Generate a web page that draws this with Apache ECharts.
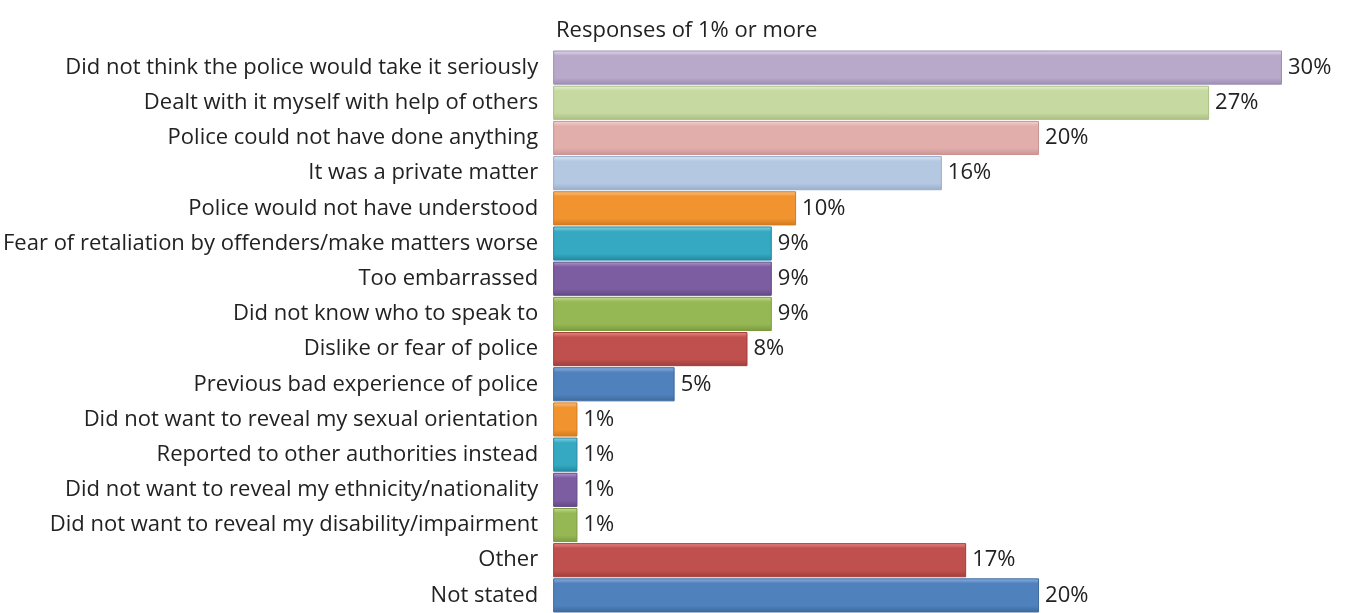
<!DOCTYPE html>
<html>
<head>
<meta charset="utf-8">
<script src="https://cdn.jsdelivr.net/npm/echarts@6/dist/echarts.min.js"></script>
<style>
  html, body { margin: 0; padding: 0; background: #fff; }
  #chart { width: 1352px; height: 613px; }
</style>
</head>
<body>
<div id="chart"></div>
<script>
// categories top to bottom
var categories = [
  "Did not think the police would take it seriously",
  "Dealt with it myself with help of others",
  "Police could not have done anything",
  "It was a private matter",
  "Police would not have understood",
  "Fear of retaliation by offenders/make matters worse",
  "Too embarrassed",
  "Did not know who to speak to",
  "Dislike or fear of police",
  "Previous bad experience of police",
  "Did not want to reveal my sexual orientation",
  "Reported to other authorities instead",
  "Did not want to reveal my ethnicity/nationality",
  "Did not want to reveal my disability/impairment",
  "Other",
  "Not stated"
];
var values = [30, 27, 20, 16, 10, 9, 9, 9, 8, 5, 1, 1, 1, 1, 17, 20];
// bar colours (light top, base, dark bottom)
var barColors = [
  ["#e6dcf0", "#b8a9cb", "#9d8db3"],
  ["#e8f2d2", "#c6d9a0", "#a9bf82"],
  ["#f6d6d4", "#e2aeab", "#c99390"],
  ["#dce8f6", "#b5c8e2", "#97adca"],
  ["#fbc489", "#f1932f", "#d37a1e"],
  ["#8fd6e6", "#36a9c2", "#2388a0"],
  ["#b49ad0", "#7c5da1", "#634887"],
  ["#c7df96", "#96b854", "#7b9a3e"],
  ["#e98c88", "#c0504d", "#a03e3b"],
  ["#8fb4e3", "#4f81bd", "#3d699d"],
  ["#fbc489", "#f1932f", "#d37a1e"],
  ["#8fd6e6", "#36a9c2", "#2388a0"],
  ["#b49ad0", "#7c5da1", "#634887"],
  ["#c7df96", "#96b854", "#7b9a3e"],
  ["#e98c88", "#c0504d", "#a03e3b"],
  ["#8fb4e3", "#4f81bd", "#3d699d"]
];

var chart = echarts.init(document.getElementById('chart'));
var font = '"Open Sans", "Noto Sans", sans-serif';

var data = values.map(function (v, i) {
  var c = barColors[i];
  return {
    value: v,
    itemStyle: {
      color: {
        type: 'linear', x: 0, y: 0, x2: 0, y2: 1,
        colorStops: [
          { offset: 0, color: c[0] },
          { offset: 0.15, color: c[1] },
          { offset: 0.8, color: c[1] },
          { offset: 1, color: c[2] }
        ]
      },
      borderColor: c[2],
      borderWidth: 1
    }
  };
});

var option = {
  animation: false,
  title: {
    text: "Responses of 1% or more",
    left: 551,
    top: 15,
    textStyle: { fontFamily: font, fontSize: 22, fontWeight: 'normal', color: '#222' }
  },
  grid: { left: 552, top: 50, width: 730, height: 568 },
  xAxis: {
    type: 'value',
    min: 0,
    max: 30,
    show: false
  },
  yAxis: {
    type: 'category',
    inverse: true,
    data: categories,
    axisLine: { show: false },
    axisTick: { show: false },
    axisLabel: {
      margin: 15,
      fontFamily: font,
      fontSize: 22,
      color: '#222'
    }
  },
  series: [{
    type: 'bar',
    data: data,
    barCategoryGap: '3%',
    label: {
      show: true,
      position: 'right',
      distance: 6,
      formatter: '{c}%',
      fontFamily: font,
      fontSize: 22,
      color: '#222'
    }
  }]
};
chart.setOption(option);
</script>
</body>
</html>
